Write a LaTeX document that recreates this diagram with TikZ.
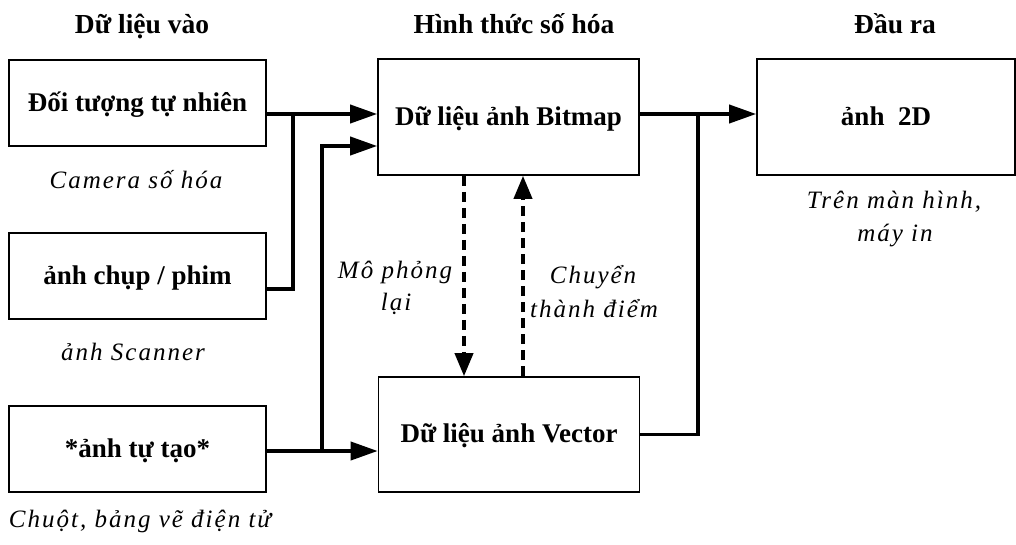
\documentclass[tikz,border=0pt]{standalone}
\usepackage{fontspec}
\setmainfont{Liberation Serif}
\newfontfamily\lightit{Liberation Serif}[LetterSpace=8]
\usetikzlibrary{arrows.meta}
\begin{document}
\begin{tikzpicture}[x=1pt,y=-1pt,
  box/.style={draw, line width=1.6pt, inner sep=0pt, text height=21pt, text depth=5pt, font=\fontsize{27}{30}\selectfont\bfseries},
  head/.style={anchor=base, font=\fontsize{27.5}{30}\selectfont\bfseries},
  note/.style={anchor=base, font=\fontsize{25}{28}\selectfont\lightit\itshape},
  conn/.style={line width=3.8pt},
  arr/.style={conn, -{Triangle[length=27pt,width=18pt]}},
  darr/.style={line width=3.8pt, dash pattern=on 10pt off 6pt, -{Triangle[length=23pt,width=18pt]}}
]
\useasboundingbox (0,0) rectangle (1016,544);

% headers
\node[head] (h1) at (142,33) {Dữ liệu vào};
\node[head] (h2) at (514,33) {Hình thức số hóa};
\node[head] (h3) at (895,33) {Đầu ra};

% boxes
\node[box, minimum width=257pt, minimum height=86pt] (n1) at (137.5,103) {Đối tượng tự nhiên};
\node[box, minimum width=257pt, minimum height=86pt] (n2) at (137.5,276) {ảnh chụp / phim};
\node[box, minimum width=257pt, minimum height=86pt] (n3) at (137.5,449) {*ảnh tự tạo*};
\node[box, minimum width=261pt, minimum height=116pt] (bm) at (508.5,117) {Dữ liệu ảnh Bitmap};
\node[box, minimum width=261pt, minimum height=115pt] (vc) at (509,434.5) {Dữ liệu ảnh Vector};
\node[box, minimum width=258pt, minimum height=116pt] (out) at (886,117) {ảnh\ \ 2D};

% notes
\node[note] (c1) at (136,188) {Camera số hóa};
\node[note] (c2) at (133,360) {ảnh Scanner};
\node[note] (c3) at (140,527) {Chuột, bảng vẽ điện tử};
\node[note] (m1) at (395,278) {Mô phỏng};
\node[note] (m2) at (396,310) {lại};
\node[note] (t1) at (593,283) {Chuyển};
\node[note] (t2) at (594,317) {thành điểm};
\node[note] (o1) at (894,208) {Trên màn hình,};
\node[note] (o2) at (895,241) {máy in};

% junctions
\coordinate (j1) at (293,114);
\coordinate (j2) at (322,451);
\coordinate (j3) at (698,114);

% connectors
\draw[arr] ([yshift=-11pt]n1.east) -- ([yshift=3pt]bm.west);
\draw[conn] ([yshift=-13pt]n2.east) -| (j1);
\draw[arr] ([yshift=-2pt]n3.east) -- ([yshift=-16.5pt]vc.west);
\draw[arr] (j2) |- ([yshift=-29pt]bm.west);
\draw[arr] ([yshift=3pt]bm.east) -- ([yshift=3pt]out.west);
\draw[conn] (vc.east) -| (j3);

% dashed arrows
\draw[darr] ([xshift=-44.5pt]bm.south) -- ([xshift=-45pt]vc.north);
\draw[darr] ([xshift=14pt]vc.north) -- ([xshift=14.5pt]bm.south);
\end{tikzpicture}
\end{document}
